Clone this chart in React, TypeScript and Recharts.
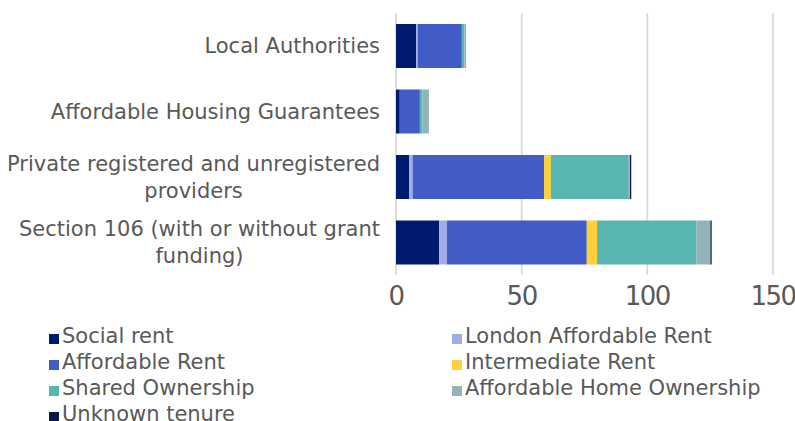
import React from "react";
import { BarChart, Bar, XAxis, YAxis, CartesianGrid } from "recharts";

const categories = [
  "Local Authorities",
  "Affordable Housing Guarantees",
  "Private registered and unregistered\nproviders",
  "Section 106 (with or without grant\nfunding)",
];
const socialRent = [8, 1.5, 5.3, 17.2];
const londonAffordableRent = [0.6, 0, 1.3, 3.1];
const affordableRent = [17.6, 8, 52.3, 55.6];
const intermediateRent = [0, 0, 2.7, 4.1];
const sharedOwnership = [1, 1.1, 30.7, 39.5];
const affordableHomeOwnership = [0.7, 2.5, 0.8, 5.6];
const unknownTenure = [0, 0, 0.5, 0.5];
const xTicks = [0, 50, 100, 150];

const seriesDefs = [
  { key: "social", name: "Social rent", values: socialRent, color: "#001A70" },
  { key: "lar", name: "London Affordable Rent", values: londonAffordableRent, color: "#9FADE4" },
  { key: "ar", name: "Affordable Rent", values: affordableRent, color: "#425CC7" },
  { key: "ir", name: "Intermediate Rent", values: intermediateRent, color: "#FFD03A" },
  { key: "so", name: "Shared Ownership", values: sharedOwnership, color: "#58B6B0" },
  { key: "aho", name: "Affordable Home Ownership", values: affordableHomeOwnership, color: "#92B4B8" },
  { key: "unk", name: "Unknown tenure", values: unknownTenure, color: "#0B1748" },
];

const data = categories.map((c, i) => {
  const row: any = { name: c };
  seriesDefs.forEach((s) => (row[s.key] = s.values[i]));
  return row;
});

const FONT = "'DejaVu Sans', sans-serif";
const TEXT = "#595959";
const LABEL_SIZE = 21;

let ctx: CanvasRenderingContext2D | null = null;
function measure(t: string, size: number) {
  if (!ctx) ctx = document.createElement("canvas").getContext("2d");
  if (!ctx) return t.length * size * 0.55;
  ctx.font = `${size}px ${FONT}`;
  return ctx.measureText(t).width;
}

const CategoryTick = (props: any) => {
  const { y, payload } = props;
  const lines = String(payload.value).split("\n");
  const maxW = Math.max(...lines.map((l) => measure(l, LABEL_SIZE)));
  const right = 380;
  const cx = right - maxW / 2;
  const lh = 27;
  const start = y - ((lines.length - 1) * lh) / 2;
  return (
    <text fill={TEXT} fontSize={LABEL_SIZE} fontFamily={FONT} textAnchor="middle">
      {lines.map((l, i) => (
        <tspan key={i} x={cx} y={start + i * lh} dy="0.35em">
          {l}
        </tspan>
      ))}
    </text>
  );
};

const LegendBox = () => (
  <div
    style={{
      position: "absolute",
      left: 49,
      top: 323,
      display: "grid",
      gridTemplateColumns: "403px 340px",
      fontFamily: FONT,
      fontSize: LABEL_SIZE,
      color: TEXT,
      lineHeight: "26px",
    }}
  >
    {seriesDefs.map((s) => (
      <div key={s.key} style={{ display: "flex", alignItems: "center", whiteSpace: "nowrap", height: 26 }}>
        <span style={{ display: "inline-block", width: 10, height: 10, background: s.color, marginRight: 3, marginTop: 5 }} />
        <span>{s.name}</span>
      </div>
    ))}
  </div>
);

export default function App() {
  return (
    <div style={{ position: "absolute", left: 0, top: 0, width: 795, height: 421, background: "#fff", overflow: "hidden" }}>
      <BarChart
        width={795}
        height={421}
        data={data}
        layout="vertical"
        margin={{ top: 13, right: 22, left: 0, bottom: 106 }}
        barSize={44}
      >
        <CartesianGrid horizontal={false} stroke="#D9D9D9" strokeWidth={1.7} />
        <XAxis
          type="number"
          domain={[0, 150]}
          ticks={xTicks}
          axisLine={false}
          tickLine={false}
          tickSize={6}
          tickMargin={6}
          height={40}
          tick={{ fill: TEXT, fontSize: 26, fontFamily: FONT, letterSpacing: -1.5 }}
          interval={0}
        />
        <YAxis
          type="category"
          dataKey="name"
          width={396}
          axisLine={false}
          tickLine={false}
          tick={<CategoryTick />}
          interval={0}
        />
        {seriesDefs.map((s) => (
          <Bar key={s.key} dataKey={s.key} name={s.name} stackId="a" fill={s.color} isAnimationActive={false} />
        ))}
      </BarChart>
      <LegendBox />
    </div>
  );
}
